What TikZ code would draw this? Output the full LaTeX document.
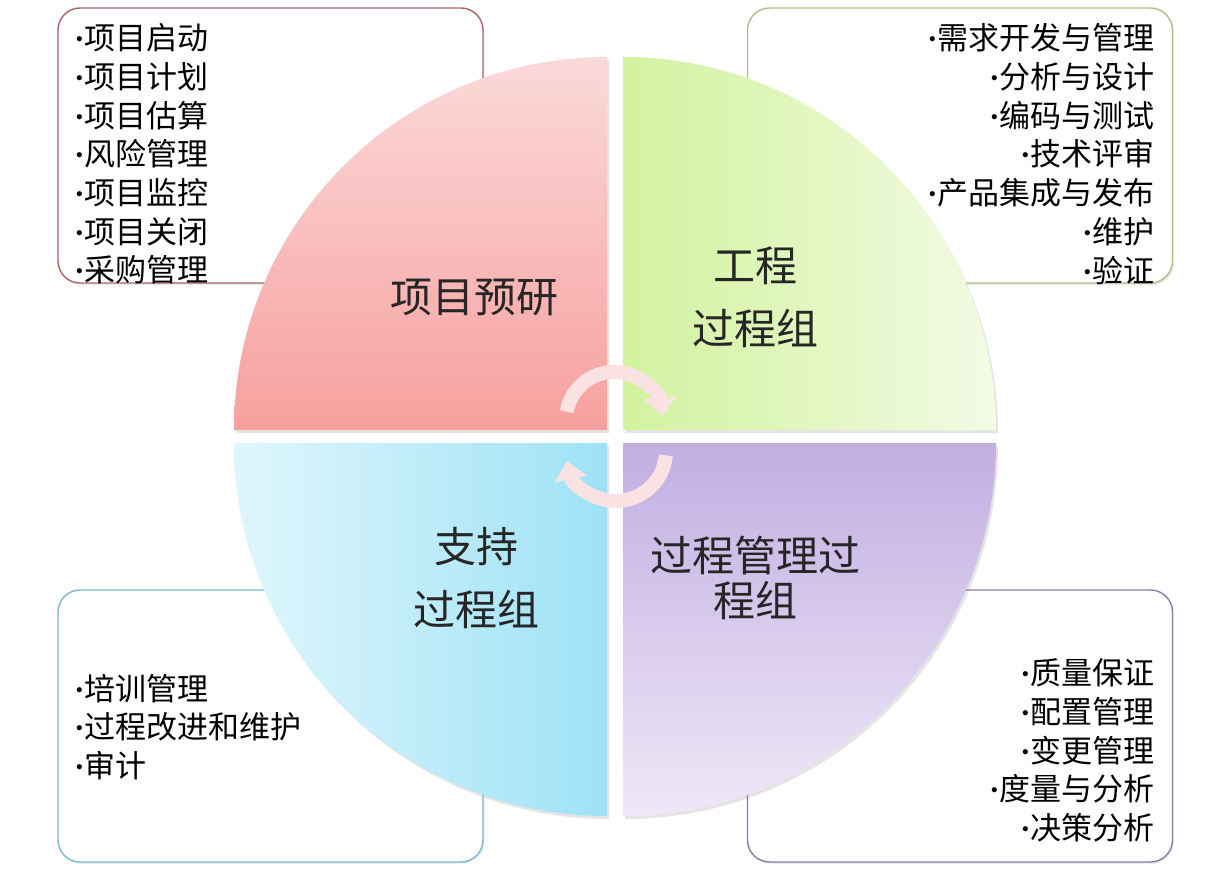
\documentclass[tikz,border=0pt]{standalone}
\usepackage{fontspec}
\setmainfont{Noto Sans CJK SC}
\newfontfamily\bulfont{Liberation Sans}
\usetikzlibrary{arrows.meta,shadows}
\definecolor{tlborder}{RGB}{170,100,100}
\definecolor{trborder}{RGB}{170,192,135}
\definecolor{blborder}{RGB}{120,185,205}
\definecolor{brborder}{RGB}{140,124,170}
\definecolor{pinktop}{RGB}{251,217,217}
\definecolor{pinkbot}{RGB}{246,160,158}
\definecolor{greenl}{RGB}{210,242,158}
\definecolor{greenr}{RGB}{242,251,228}
\definecolor{bluel}{RGB}{224,246,252}
\definecolor{bluer}{RGB}{158,226,246}
\definecolor{purtop}{RGB}{194,174,226}
\definecolor{purbot}{RGB}{238,232,247}
\definecolor{arrowpink}{RGB}{250,226,226}
\newcommand\lbul{\raisebox{4pt}{\bulfont\fontsize{19}{38.7}\selectfont •}\hspace{2pt}}
\begin{document}
\begin{tikzpicture}[x=1pt,y=-1pt,
  box/.style={draw, rounded corners=22pt, line width=1.4pt, fill=white,
    minimum width=425pt, minimum height=275pt, inner sep=0pt,
    drop shadow={shadow xshift=1.5pt,shadow yshift=-2pt,opacity=0.15}},
  listtxt/.style={font=\fontsize{31}{38.7}\selectfont, inner sep=0pt, text=black},
  quad/.style={drop shadow={shadow xshift=2pt,shadow yshift=-3pt,opacity=0.2}},
  lab/.style={font=\fontsize{42}{63}\selectfont, text=black!85, align=center, inner sep=0pt},
  cyc/.style={line width=14pt, draw=arrowpink, -{Triangle[width=32pt,length=18pt]}}
]
\useasboundingbox (0,0) rectangle (1228,873);
\fill[white] (0,0) rectangle (1228,873);

% boxes
\node[box, draw=tlborder] (b1) at (270.5,145.5) {};
\node[box, draw=trborder] (b2) at (960,145.5) {};
\node[box, draw=blborder, minimum height=272pt] (b3) at (270.5,726) {};
\node[box, draw=brborder, minimum height=272pt] (b4) at (960,726) {};

% lists
\node[listtxt, align=left, anchor=west] (l1) at (76,154)
  {\lbul 项目启动\\\lbul 项目计划\\\lbul 项目估算\\\lbul 风险管理\\\lbul 项目监控\\\lbul 项目关闭\\\lbul 采购管理};
\node[listtxt, align=right, anchor=east] (l2) at (1155,154)
  {\lbul 需求开发与管理\\\lbul 分析与设计\\\lbul 编码与测试\\\lbul 技术评审\\\lbul 产品集成与发布\\\lbul 维护\\\lbul 验证};
\node[listtxt, align=left, anchor=west] (l3) at (76,727)
  {\lbul 培训管理\\\lbul 过程改进和维护\\\lbul 审计};
\node[listtxt, align=right, anchor=east] (l4) at (1155,750.5)
  {\lbul 质量保证\\\lbul 配置管理\\\lbul 变更管理\\\lbul 度量与分析\\\lbul 决策分析};

% quadrants
\path[quad, top color=pinktop, bottom color=pinkbot]
  (607,430) -- (234,430) arc[start angle=180, end angle=270, radius=373] -- cycle;
\path[quad, left color=greenl, right color=greenr]
  (623,430) -- (623,57) arc[start angle=270, end angle=360, radius=373] -- cycle;
\path[quad, left color=bluel, right color=bluer]
  (607,443) -- (234,443) arc[start angle=180, end angle=90, radius=373] -- cycle;
\path[quad, top color=purtop, bottom color=purbot]
  (623,443) -- (996,443) arc[start angle=0, end angle=90, radius=373] -- cycle;

% labels
\node[lab] (q1) at (474,298) {项目预研};
\node[lab] (q2) at (755,297) {工程\\过程组};
\node[lab] (q3) at (476,578) {支持\\过程组};
\node[lab, font=\fontsize{42}{45}\selectfont] (q4) at (755,578) {过程管理过\\程组};

% cycle arrows
\coordinate (c1) at (614,420);
\coordinate (c2) at (616,451);
\draw[cyc] (c1) ++(190:48) arc[start angle=190, end angle=355, radius=48];
\draw[cyc] (c2) ++(5:50) arc[start angle=5, end angle=168, radius=50];
\end{tikzpicture}
\end{document}
